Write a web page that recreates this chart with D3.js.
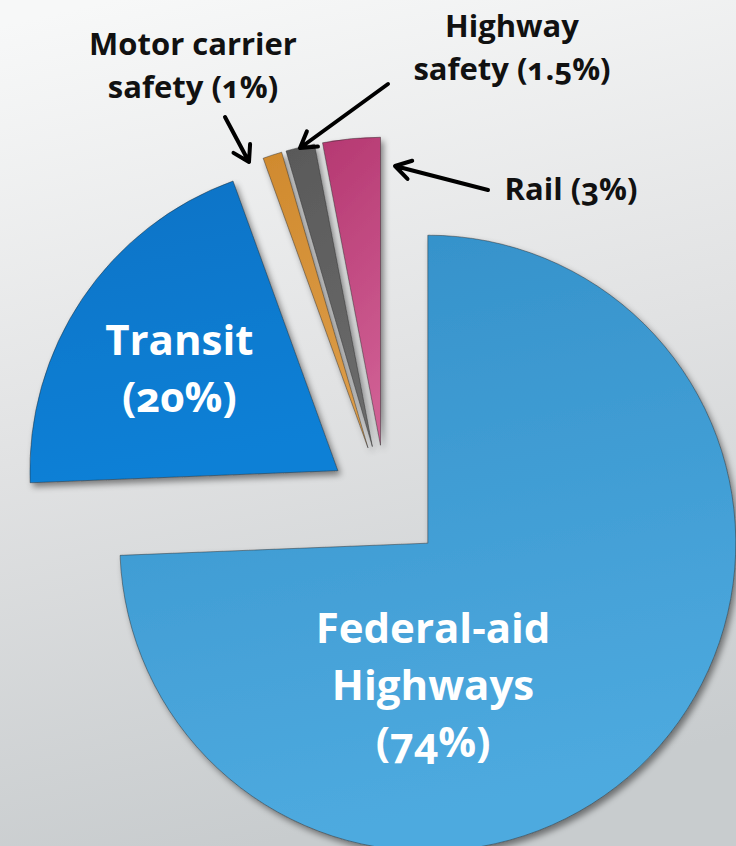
<!DOCTYPE html>
<html>
<head>
<meta charset="utf-8">
<script src="https://cdn.jsdelivr.net/npm/d3@7"></script>
<style>
  html, body { margin: 0; padding: 0; }
  body { width: 736px; height: 846px; overflow: hidden; }
  text { font-family: "Open Sans", "Noto Sans", sans-serif; font-weight: 700; font-variant-numeric: oldstyle-nums; }
  .inner-label { fill: #fff; font-size: 42px; }
  .outer-label { fill: #111; font-size: 31px; }
</style>
</head>
<body>
<div class="container"></div>
<script>
// data
const categories = ["Federal-aid Highways", "Transit", "Motor carrier safety", "Highway safety", "Rail"];
const shares = [74, 20, 1, 1.5, 3];
const shareLabels = ["74%", "20%", "1%", "1.5%", "3%"];

const width = 736;
const height = 846;

const cx = 386, cy = 503;
const radius = 308;
const explode = 58;

const colors = [
  ["#3390c9", "#4eaadf"],
  ["#0873c6", "#0d80d6"],
  ["#d08a2e", "#dc9c48"],
  ["#595959", "#6a6a6a"],
  ["#b53871", "#cf5e93"]
];

const svg = d3.select(".container")
              .append("svg")
                .attr("width", width)
                .attr("height", height);

const defs = svg.append("defs");

// background
const bg = defs.append("linearGradient")
                .attr("id", "bg")
                .attr("x1", 0.15).attr("y1", 0)
                .attr("x2", 0.35).attr("y2", 1);
bg.append("stop").attr("offset", 0).attr("stop-color", "#f7f8f8");
bg.append("stop").attr("offset", 0.5).attr("stop-color", "#e1e2e3");
bg.append("stop").attr("offset", 1).attr("stop-color", "#c8ccce");

svg.append("rect")
    .attr("width", width)
    .attr("height", height)
    .attr("fill", "url(#bg)");

const shadow = defs.append("filter")
                    .attr("id", "shadow")
                    .attr("x", -0.2).attr("y", -0.2)
                    .attr("width", 1.4).attr("height", 1.4);
shadow.append("feDropShadow")
        .attr("dx", 3).attr("dy", 4)
        .attr("stdDeviation", 3)
        .attr("flood-color", "#000")
        .attr("flood-opacity", 0.45);

colors.forEach((c, i) => {
  let g = defs.append("linearGradient")
                .attr("id", "grad" + i)
                .attr("x1", 0).attr("y1", 0)
                .attr("x2", 0.2).attr("y2", 1);
  g.append("stop").attr("offset", 0).attr("stop-color", c[0]);
  g.append("stop").attr("offset", 1).attr("stop-color", c[1]);
});

const pie = d3.pie().sort(null).value(d => d)(shares);

const arc = d3.arc().innerRadius(0).outerRadius(radius);

function apex(d) {
  let a = (d.startAngle + d.endAngle) / 2;
  return [cx + explode * Math.sin(a), cy - explode * Math.cos(a)];
}

const slices = svg.append("g")
                  .selectAll(".slice")
                  .data(pie)
                  .enter()
                  .append("path")
                    .classed("slice", true)
                    .attr("transform", d => "translate(" + apex(d) + ")")
                    .attr("d", arc)
                    .attr("fill", (d, i) => "url(#grad" + i + ")")
                    .attr("stroke", "rgba(40,40,40,0.45)")
                    .attr("stroke-width", 1)
                    .attr("filter", "url(#shadow)");

// labels inside the two big slices (angle from apex, distance, lines)
const innerLabels = [
  {i: 0, angle: 177, dist: 100, lines: ["Federal-aid", "Highways", "(" + shareLabels[0] + ")"]},
  {i: 1, angle: 306, dist: 196, lines: ["Transit", "(" + shareLabels[1] + ")"]}
];

innerLabels.forEach(l => {
  let p = apex(pie[l.i]);
  let a = l.angle * Math.PI / 180;
  let x = p[0] + l.dist * Math.sin(a);
  let y = p[1] - l.dist * Math.cos(a);
  let t = svg.append("text")
              .classed("inner-label", true)
              .attr("text-anchor", "middle")
              .attr("x", x)
              .attr("y", y);
  l.lines.forEach((s, k) => {
    t.append("tspan")
      .attr("x", x)
      .attr("dy", k == 0 ? 0 : 57)
      .text(s);
  });
});

// callouts for the thin slices
const outerLabels = [
  {x: 193, y: 55, lines: ["Motor carrier", "safety (" + shareLabels[2] + ")"], from: [225, 117], to: [249, 162]},
  {x: 512, y: 37, lines: ["Highway", "safety (" + shareLabels[3] + ")"], from: [388, 84], to: [300, 148]},
  {x: 571, y: 200, lines: ["Rail (" + shareLabels[4] + ")"], from: [488, 190], to: [395, 166]}
];

outerLabels.forEach(l => {
  let t = svg.append("text")
              .classed("outer-label", true)
              .attr("text-anchor", "middle")
              .attr("x", l.x)
              .attr("y", l.y);
  l.lines.forEach((s, k) => {
    t.append("tspan")
      .attr("x", l.x)
      .attr("dy", k == 0 ? 0 : 43)
      .text(s);
  });

  let ang = Math.atan2(l.to[1] - l.from[1], l.to[0] - l.from[0]);
  let head = 18;
  let spread = 0.55;
  let p1 = [l.to[0] - head * Math.cos(ang - spread), l.to[1] - head * Math.sin(ang - spread)];
  let p2 = [l.to[0] - head * Math.cos(ang + spread), l.to[1] - head * Math.sin(ang + spread)];

  svg.append("path")
      .attr("d", "M" + l.from + "L" + l.to + "M" + p1 + "L" + l.to + "L" + p2)
      .attr("fill", "none")
      .attr("stroke", "#000")
      .attr("stroke-width", 4)
      .attr("stroke-linecap", "round")
      .attr("stroke-linejoin", "round");
});
</script>
</body>
</html>
